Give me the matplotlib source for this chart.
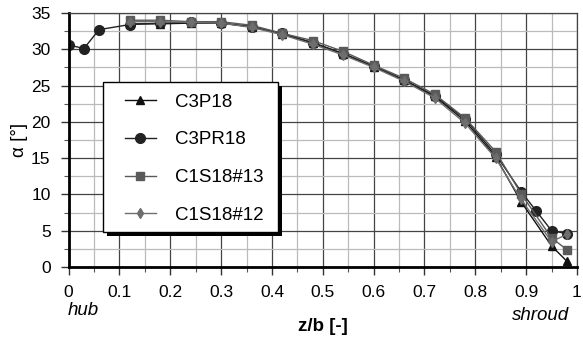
import matplotlib
matplotlib.use('Agg')
from matplotlib import pyplot as plt
from matplotlib.ticker import MultipleLocator
from matplotlib.patches import Rectangle
import matplotlib.patheffects as pe

plt.rcParams['font.family'] = ['Liberation Sans', 'DejaVu Sans']

# --- data ---
x_pr = [0, 0.03, 0.06, 0.12, 0.18, 0.24, 0.30, 0.36, 0.42, 0.48, 0.54,
        0.60, 0.66, 0.72, 0.78, 0.84, 0.89, 0.92, 0.95, 0.98]
c3pr18 = [30.6, 30.1, 32.7, 33.4, 33.6, 33.7, 33.6, 33.1, 32.2, 30.9, 29.4,
          27.7, 25.8, 23.6, 20.4, 15.5, 10.4, 7.7, 5.0, 4.6]

x_s = [0.12, 0.18, 0.24, 0.30, 0.36, 0.42, 0.48, 0.54, 0.60, 0.66, 0.72,
       0.78, 0.84, 0.89, 0.95, 0.98]
c3p18 = [33.5, 33.5, 33.6, 33.6, 33.1, 32.1, 30.9, 29.4, 27.6, 25.7, 23.5,
         20.1, 15.2, 9.0, 2.9, 0.8]
c1s18_13 = [34.0, 34.0, 33.8, 33.8, 33.3, 32.2, 31.2, 29.7, 27.8, 26.0, 23.8,
            20.5, 15.9, 10.1, 4.0, 2.4]
c1s18_12 = [33.8, 33.8, 33.7, 33.6, 33.0, 32.0, 30.7, 29.2, 27.5, 25.6, 23.3,
            19.8, 15.0, 9.3, 3.5, 4.5]

##################################################################
fig = plt.figure(figsize=(5.83, 3.41), dpi=100)
ax = fig.add_axes([0.1177, 0.217, 0.872, 0.745])

ax.plot(x_s, c3p18, color='#111111', lw=1.0, marker='^', ms=6, label='C3P18')
ax.plot(x_pr, c3pr18, color='#222222', lw=1.0, marker='o', ms=7, label='C3PR18')
ax.plot(x_s, c1s18_13, color='#5a5a5a', lw=1.0, marker='s', ms=6, label='C1S18#13')
ax.plot(x_s, c1s18_12, color='#6e6e6e', lw=1.0, marker='d', ms=5, label='C1S18#12')

ax.set_xlim(0, 1)
ax.set_ylim(0, 35)
ax.xaxis.set_minor_locator(MultipleLocator(0.05))
ax.yaxis.set_major_locator(MultipleLocator(5))
ax.yaxis.set_minor_locator(MultipleLocator(2.5))
ax.set_xticks([0, 0.1, 0.2, 0.3, 0.4, 0.5, 0.6, 0.7, 0.8, 0.9, 1])
ax.set_xticklabels(['0', '0.1', '0.2', '0.3', '0.4', '0.5', '0.6', '0.7', '0.8', '0.9', '1'])

ax.grid(which='major', color='#444444', lw=0.9)
ax.grid(which='minor', color='#bbbbbb', lw=0.9)
ax.set_axisbelow(True)

ax.tick_params(which='major', direction='out', length=6, width=1, color='#333333',
               labelsize=12.5, pad=7)
ax.tick_params(which='minor', direction='out', length=3.5, width=0.8, color='#555555')

ax.spines['left'].set_linewidth(2)
ax.spines['bottom'].set_linewidth(2)
for s in ['top', 'right']:
  ax.spines[s].set_linewidth(0.9)
  ax.spines[s].set_color('#444444')

ax.set_ylabel('α [°]', fontsize=13.5, labelpad=2)
ax.set_xlabel('z/b [-]', fontsize=13.5, fontweight='bold', labelpad=13)
ax.text(-0.001, -0.17, 'hub', transform=ax.transAxes, fontsize=13.5,
        style='italic', ha='left', va='center')
ax.text(0.985, -0.19, 'shroud', transform=ax.transAxes, fontsize=13.5,
        style='italic', ha='right', va='center')

# legend box with hard black shadow
box = Rectangle((0.067, 0.138), 0.345, 0.590, transform=ax.transAxes,
                facecolor='white', edgecolor='black', lw=1.0, zorder=4)
box.set_path_effects([pe.SimplePatchShadow(offset=(3, -3), shadow_rgbFace='black', alpha=1),
                      pe.Normal()])
ax.add_patch(box)

leg = ax.legend(loc='upper left', bbox_to_anchor=(0.110, 0.683), fontsize=13.5,
                frameon=False, handlelength=1.7, labelspacing=1.1,
                borderpad=0, handletextpad=1.0, borderaxespad=0)
leg.set_zorder(5)

plt.savefig('out.png', dpi=100)
